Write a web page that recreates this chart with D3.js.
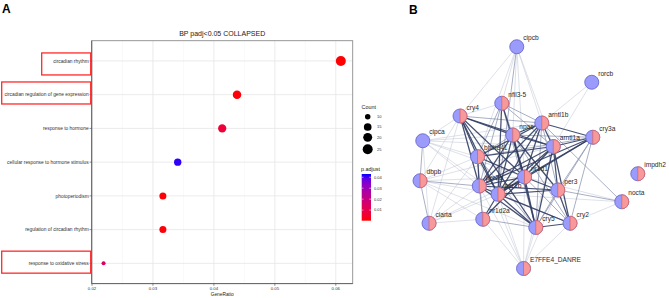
<!DOCTYPE html>
<meta charset="utf-8" />
<script src="https://d3js.org/d3.v7.js"></script>
<style>
  body { margin: 0; background: #fff; }
  text { font-family: "Liberation Sans", Arial, sans-serif; }
</style>
<div id="fig"></div>
<script>
  // ---- panel A data (GO BP enrichment) ----
  const terms = [
    "circadian rhythm",
    "circadian regulation of gene expression",
    "response to hormone",
    "cellular response to hormone stimulus",
    "photoperiodism",
    "regulation of circadian rhythm",
    "response to oxidative stress"
  ];
  const counts = [25, 18, 17, 14, 13, 13, 9];
  const geneTotal = 411;
  const padj = [0.0005, 0.001, 0.007, 0.042, 0.0008, 0.001, 0.014];
  const xTicks = [0.02, 0.03, 0.04, 0.05, 0.06];
  const countBreaks = [10, 15, 20, 25];
  const padjBreaks = [0.04, 0.03, 0.02, 0.01];
  const boxedTerms = ["circadian rhythm", "circadian regulation of gene expression", "response to oxidative stress"];

  // ---- panel B data (STRING network) ----
  const nodeNames = ["cipcb", "rorcb", "nfil3-5", "cry4", "arntl1b", "cipca", "npas", "cry3a", "arntl1a",
    "bhlhe41", "impdh2", "nr1d1", "dbpb", "per2a", "per3", "per1b", "nocta", "nr1d2a", "ciarta", "cry2", "cry5", "E7FFE4_DANRE"];
  // layout units (0-100)
  const layoutX = [42.7, 72.7, 36.7, 20, 52.7, 5.1, 41.1, 73.1, 57.3, 27, 91.1, 45.8, 4, 27.7, 59.1, 35.2, 84.7, 29.1, 7.6, 64, 50.3, 45.4];
  const layoutY = [6.7, 20.9, 29.3, 34.4, 37.2, 44.3, 42, 42.9, 46.6, 50.7, 57.5, 58.8, 60.3, 62.4, 64, 65.7, 68.7, 75.7, 77.3, 77.3, 79, 95.4];
  const singleColour = ["cipcb", "rorcb", "cipca"];
  const edges = [
    ["cry4","npas",3],["cry4","arntl1a",3],["cry4","per1b",3],["cry4","nr1d1",3],["cry4","bhlhe41",3],["cry4","per2a",3],["cry4","cry5",3],
    ["nfil3-5","nr1d1",3],["nfil3-5","per2a",2],["nfil3-5","per1b",3],["nfil3-5","bhlhe41",2],["nfil3-5","npas",2],["nfil3-5","arntl1b",2],["nfil3-5","arntl1a",2],["nfil3-5","cry4",1],["nfil3-5","cry5",2],
    ["npas","arntl1a",3],["npas","arntl1b",3],["npas","per2a",3],["npas","per1b",3],["npas","nr1d1",3],["npas","cry5",3],["npas","per3",3],["npas","bhlhe41",2],["npas","cry2",2],["npas","cry3a",2],
    ["arntl1b","arntl1a",3],["arntl1b","per2a",3],["arntl1b","nr1d1",3],["arntl1b","per1b",3],["arntl1b","bhlhe41",3],["arntl1b","cry3a",3],["arntl1b","per3",2],["arntl1b","cry5",2],["arntl1b","cry4",2],
    ["arntl1a","cry3a",3],["arntl1a","per1b",3],["arntl1a","per2a",3],["arntl1a","nr1d1",3],["arntl1a","cry2",3],["arntl1a","cry5",3],["arntl1a","bhlhe41",3],["arntl1a","per3",3],["arntl1a","nr1d2a",2],
    ["cry3a","per2a",3],["cry3a","per1b",3],["cry3a","nr1d1",3],["cry3a","per3",2],["cry3a","cry5",2],["cry3a","cry2",2],["cry3a","bhlhe41",2],
    ["bhlhe41","per2a",3],["bhlhe41","per1b",3],["bhlhe41","nr1d1",3],["bhlhe41","cry5",2],["bhlhe41","nr1d2a",2],
    ["nr1d1","per1b",3],["nr1d1","per3",3],["nr1d1","cry5",3],["nr1d1","nr1d2a",3],["nr1d1","per2a",3],["nr1d1","cry2",2],
    ["per2a","per1b",3],["per2a","cry5",3],["per2a","per3",3],["per2a","nr1d2a",2],["per2a","cry2",2],
    ["per1b","cry5",3],["per1b","cry2",3],["per1b","per3",3],["per1b","nr1d2a",3],
    ["per3","cry2",3],["per3","cry5",2],["cry5","cry2",3],["nr1d2a","cry5",2],
    ["cipcb","nfil3-5",1],["cipcb","cry4",1],["cipcb","npas",1],["cipcb","arntl1b",1],["cipcb","arntl1a",1],["cipcb","per1b",2],["cipcb","bhlhe41",1],["cipcb","nr1d1",1],
    ["rorcb","arntl1b",1],["rorcb","arntl1a",1],
    ["cipca","cry4",1],["cipca","npas",1],["cipca","arntl1a",1],["cipca","bhlhe41",1],["cipca","per2a",1],["cipca","nr1d1",1],["cipca","per1b",1],["cipca","dbpb",2],["cipca","ciarta",1],["cipca","arntl1b",1],
    ["dbpb","per2a",2],["dbpb","per1b",1],["dbpb","nr1d1",1],["dbpb","bhlhe41",1],["dbpb","cry4",1],["dbpb","nr1d2a",1],["dbpb","ciarta",2],["dbpb","cry5",1],["dbpb","arntl1a",1],
    ["ciarta","per2a",1],["ciarta","bhlhe41",1],["ciarta","nr1d2a",1],["ciarta","per1b",1],["ciarta","cry4",1],["ciarta","nr1d1",1],
    ["E7FFE4_DANRE","per2a",1],["E7FFE4_DANRE","per1b",1],["E7FFE4_DANRE","nr1d2a",1],["E7FFE4_DANRE","cry5",1],["E7FFE4_DANRE","bhlhe41",1],["E7FFE4_DANRE","nr1d1",1],["E7FFE4_DANRE","per3",1],["E7FFE4_DANRE","arntl1a",1],["E7FFE4_DANRE","cry2",1],
    ["nocta","per3",2],["nocta","arntl1b",2],["nocta","cry2",1],["nocta","nr1d1",1],["nocta","per1b",1]
  ];

  const width = 669;
  const height = 298;

  const svg = d3.select("#fig").append("svg")
    .attr("width", width)
    .attr("height", height)
    .style("display", "block");
  svg.append("rect").attr("width", width).attr("height", height).attr("fill", "white");

  // panel letters
  svg.append("text").attr("x", 2).attr("y", 13).style("font-size", "12px").style("font-weight", "bold").text("A");
  svg.append("text").attr("x", 409).attr("y", 14).style("font-size", "12px").style("font-weight", "bold").text("B");

  // ================= Panel A =================
  const data = terms.map((t, i) => ({ term: t, count: counts[i], ratio: counts[i] / geneTotal, padj: padj[i] }));

  const panel = { left: 91.7, right: 352.7, top: 40.7, bottom: 283.6 };

  const rMin = d3.min(data, d => d.ratio), rMax = d3.max(data, d => d.ratio);
  const ex = (rMax - rMin) * 0.05;
  const x = d3.scaleLinear().domain([rMin - ex, rMax + ex]).range([panel.left, panel.right]);
  const y = d3.scalePoint().domain(terms).range([panel.top, panel.bottom]).padding(0.6);

  const cMin = d3.min(counts), cMax = d3.max(counts);
  const area = d3.scaleLinear().domain([cMin, cMax]).range([0, 1]);
  const size = c => 2 + 3 * Math.sqrt(area(c));

  const pExt = [0.0003, 0.043];
  const colour = d3.scaleLinear().domain(pExt).range(["#ff0000", "#0000ff"]).interpolate(d3.interpolateLab);

  const gA = svg.append("g");

  // minor grid
  const minor = d3.range(0.025, x.domain()[1], 0.01);
  gA.selectAll(".minor").data(minor).join("line")
    .attr("x1", d => x(d)).attr("x2", d => x(d))
    .attr("y1", panel.top).attr("y2", panel.bottom)
    .attr("stroke", "#f3f3f3").attr("stroke-width", 0.5);
  // major grid
  gA.selectAll(".vmaj").data(xTicks).join("line")
    .attr("x1", d => x(d)).attr("x2", d => x(d))
    .attr("y1", panel.top).attr("y2", panel.bottom)
    .attr("stroke", "#e6e6e6").attr("stroke-width", 0.8);
  gA.selectAll(".hmaj").data(terms).join("line")
    .attr("x1", panel.left).attr("x2", panel.right)
    .attr("y1", d => y(d)).attr("y2", d => y(d))
    .attr("stroke", "#e6e6e6").attr("stroke-width", 0.8);

  // border
  gA.append("rect")
    .attr("x", panel.left).attr("y", panel.top)
    .attr("width", panel.right - panel.left).attr("height", panel.bottom - panel.top)
    .attr("fill", "none").attr("stroke", "#8c8c8c").attr("stroke-width", 0.9);
  gA.append("line").attr("x1", panel.left).attr("x2", panel.left).attr("y1", panel.top).attr("y2", panel.bottom)
    .attr("stroke", "#666").attr("stroke-width", 1);
  gA.append("line").attr("x1", panel.left).attr("x2", panel.right).attr("y1", panel.bottom).attr("y2", panel.bottom)
    .attr("stroke", "#666").attr("stroke-width", 1);

  // y axis
  gA.selectAll(".ytick").data(terms).join("line")
    .attr("x1", panel.left - 2.2).attr("x2", panel.left)
    .attr("y1", d => y(d)).attr("y2", d => y(d))
    .attr("stroke", "#444").attr("stroke-width", 0.6);
  gA.selectAll(".ylab").data(terms).join("text")
    .attr("x", panel.left - 3).attr("y", d => y(d))
    .attr("dy", "0.35em").attr("text-anchor", "end")
    .style("font-size", "4.85px").style("fill", "#333")
    .text(d => d);

  // x axis
  gA.selectAll(".xtick").data(xTicks).join("line")
    .attr("x1", d => x(d)).attr("x2", d => x(d))
    .attr("y1", panel.bottom).attr("y2", panel.bottom + 2.2)
    .attr("stroke", "#444").attr("stroke-width", 0.6);
  gA.selectAll(".xlab").data(xTicks).join("text")
    .attr("x", d => x(d)).attr("y", panel.bottom + 6.5)
    .attr("text-anchor", "middle")
    .style("font-size", "4.3px").style("fill", "#333")
    .text(d => d3.format(".2f")(d));
  gA.append("text")
    .attr("x", (panel.left + panel.right) / 2).attr("y", 296)
    .attr("text-anchor", "middle").style("font-size", "4.8px").style("fill", "#222")
    .text("GeneRatio");

  // title
  gA.append("text")
    .attr("x", (panel.left + panel.right) / 2).attr("y", 36)
    .attr("text-anchor", "middle").style("font-size", "7px").style("fill", "#222")
    .text("BP padj<0.05 COLLAPSED");

  // points
  gA.selectAll(".dot").data(data).join("circle")
    .attr("cx", d => x(d.ratio)).attr("cy", d => y(d.term))
    .attr("r", d => size(d.count))
    .attr("fill", d => colour(d.padj));

  // highlight boxes
  const boxLeft = { "circadian rhythm": 41.7, "circadian regulation of gene expression": 1.7, "response to oxidative stress": 1.7 };
  const boxShift = { "circadian rhythm": 3, "circadian regulation of gene expression": -1.7, "response to oxidative stress": -1.2 };
  gA.selectAll(".box").data(boxedTerms).join("rect")
    .attr("x", d => boxLeft[d]).attr("y", d => y(d) + boxShift[d] - 11)
    .attr("width", d => 90.7 - boxLeft[d]).attr("height", 22)
    .attr("fill", "none").attr("stroke", "#ff2a2a").attr("stroke-width", 1.3);

  // size legend
  const lg = svg.append("g");
  lg.append("text").attr("x", 361.5).attr("y", 109).style("font-size", "5.4px").style("fill", "#222").text("Count");
  const legY = d3.scalePoint().domain(countBreaks).range([116.7, 147.7]);
  lg.selectAll(".lc").data(countBreaks).join("circle")
    .attr("cx", 367.7).attr("cy", d => legY(d) + (d === 25 ? 1.5 : 0))
    .attr("r", d => size(d)).attr("fill", "black");
  lg.selectAll(".lt").data(countBreaks).join("text")
    .attr("x", 377).attr("y", d => legY(d) + (d === 25 ? 1.5 : 0)).attr("dy", "0.35em")
    .style("font-size", "4px").style("fill", "#333").text(d => d);

  // colour legend
  lg.append("text").attr("x", 361).attr("y", 171).style("font-size", "5.4px").style("fill", "#222").text("p.adjust");
  const barY = d3.scaleLinear().domain(pExt).range([220.7, 174]);
  const grad = svg.append("defs").append("linearGradient").attr("id", "pgrad")
    .attr("x1", 0).attr("y1", 1).attr("x2", 0).attr("y2", 0);
  grad.selectAll("stop").data(d3.range(0, 1.001, 0.1)).join("stop")
    .attr("offset", d => d)
    .attr("stop-color", d => colour(pExt[0] + d * (pExt[1] - pExt[0])));
  lg.append("rect").attr("x", 361.7).attr("y", barY(pExt[1]))
    .attr("width", 9.3).attr("height", barY(pExt[0]) - barY(pExt[1]))
    .attr("fill", "url(#pgrad)");
  lg.selectAll(".ptick").data(padjBreaks).join("line")
    .attr("x1", 361.7).attr("x2", 363.5).attr("y1", d => barY(d)).attr("y2", d => barY(d))
    .attr("stroke", "white").attr("stroke-width", 0.5);
  lg.selectAll(".ptick2").data(padjBreaks).join("line")
    .attr("x1", 369.2).attr("x2", 371).attr("y1", d => barY(d)).attr("y2", d => barY(d))
    .attr("stroke", "white").attr("stroke-width", 0.5);
  lg.selectAll(".pl").data(padjBreaks).join("text")
    .attr("x", 374).attr("y", d => barY(d)).attr("dy", "0.35em")
    .style("font-size", "4px").style("fill", "#333").text(d => d3.format(".2f")(d));

  // ================= Panel B =================
  const nx = d3.scaleLinear().domain([0, 100]).range([410, 660]);
  const ny = d3.scaleLinear().domain([0, 100]).range([30, 280]);
  const nodes = nodeNames.map((n, i) => ({ id: n, x: nx(layoutX[i]), y: ny(layoutY[i]), split: !singleColour.includes(n) }));
  const byId = new Map(nodes.map(n => [n.id, n]));

  const edgeStyle = {
    1: { c: "#bcc1d2", w: 0.55 },
    2: { c: "#8690ad", w: 0.8 },
    3: { c: "#323d63", w: 1.25 }
  };
  const gB = svg.append("g");
  gB.selectAll(".edge").data(edges.slice().sort((a, b) => a[2] - b[2])).join("line")
    .attr("x1", d => byId.get(d[0]).x).attr("y1", d => byId.get(d[0]).y)
    .attr("x2", d => byId.get(d[1]).x).attr("y2", d => byId.get(d[1]).y)
    .attr("stroke", d => edgeStyle[d[2]].c)
    .attr("stroke-width", d => edgeStyle[d[2]].w)
    .attr("stroke-opacity", 0.9);

  const nr = 7;
  const half = d3.arc().innerRadius(0).outerRadius(nr).startAngle(0).endAngle(Math.PI);
  const ng = gB.selectAll(".node").data(nodes).join("g")
    .attr("transform", d => `translate(${d.x},${d.y})`);
  ng.append("circle").attr("r", nr).attr("fill", "#9b9bfb").attr("stroke", "#6a6acf").attr("stroke-width", 0.9);
  ng.filter(d => d.split).append("path").attr("d", half)
    .attr("fill", "#f7999b").attr("stroke", "#d46a72").attr("stroke-width", 0.9);

  gB.selectAll(".nlab").data(nodes).join("text")
    .attr("x", d => d.x + 6.5).attr("y", d => d.y - 6.3)
    .style("font-size", "6.6px").style("fill", "#2a2a2a")
    .text(d => d.id);
</script>
